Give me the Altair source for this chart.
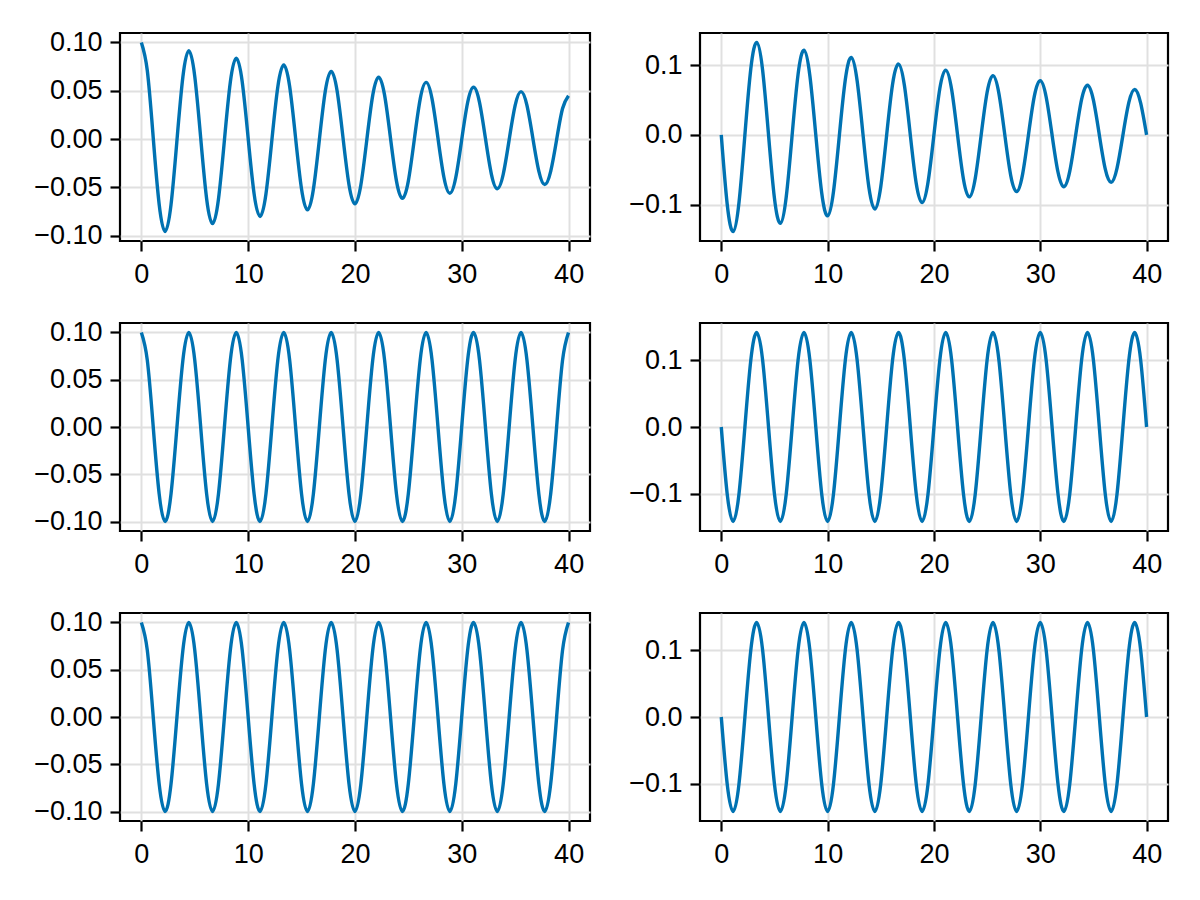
import altair as alt
import pandas as pd

# time samples (s)
t = [0.0, 0.555, 1.111, 1.666, 2.221, 2.777, 3.332, 3.888, 4.443, 4.998,
     5.554, 6.109, 6.664, 7.220, 7.775, 8.330, 8.886, 9.441, 9.996, 10.552,
     11.107, 11.663, 12.218, 12.773, 13.329, 13.884, 14.439, 14.995, 15.550, 16.105,
     16.661, 17.216, 17.772, 18.327, 18.882, 19.438, 19.993, 20.548, 21.104, 21.659,
     22.214, 22.770, 23.325, 23.880, 24.436, 24.991, 25.547, 26.102, 26.657, 27.213,
     27.768, 28.323, 28.879, 29.434, 29.989, 30.545, 31.100, 31.656, 32.211, 32.766,
     33.322, 33.877, 34.432, 34.988, 35.543, 36.098, 36.654, 37.209, 37.764, 38.320,
     38.875, 39.431, 39.986]

# damped position
x_damped = [0.10000, 0.07092, 0.00138, -0.06743, -0.09565, -0.06784, -0.00132, 0.06450, 0.09150, 0.06489,
            0.00127, -0.06169, -0.08752, -0.06207, -0.00121, 0.05901, 0.08372, 0.05937, 0.00115, -0.05645,
            -0.08008, -0.05679, -0.00111, 0.05400, 0.07660, 0.05432, 0.00106, -0.05165, -0.07327, -0.05196,
            -0.00101, 0.04940, 0.07009, 0.04971, 0.00097, -0.04726, -0.06704, -0.04755, -0.00093, 0.04520,
            0.06413, 0.04548, 0.00089, -0.04324, -0.06134, -0.04350, -0.00085, 0.04136, 0.05868, 0.04161,
            0.00081, -0.03956, -0.05613, -0.03981, -0.00078, 0.03785, 0.05369, 0.03808, 0.00074, -0.03620,
            -0.05135, -0.03642, -0.00071, 0.03463, 0.04912, 0.03484, 0.00068, -0.03312, -0.04699, -0.03333,
            -0.00065, 0.03168, 0.04495]

# damped velocity
v_damped = [0.0, -0.09890, -0.13831, -0.09672, 0.0, 0.09460, 0.13230, 0.09252, 0.0, -0.09049,
            -0.12655, -0.08850, 0.0, 0.08656, 0.12105, 0.08465, 0.0, -0.08279, -0.11579, -0.08098,
            0.0, 0.07920, 0.11076, 0.07746, 0.0, -0.07575, -0.10595, -0.07409, 0.0, 0.07246,
            0.10134, 0.07087, 0.0, -0.06931, -0.09694, -0.06779, 0.0, 0.06630, 0.09273, 0.06485,
            0.0, -0.06342, -0.08870, -0.06203, 0.0, 0.06067, 0.08485, 0.05933, 0.0, -0.05803,
            -0.08116, -0.05676, 0.0, 0.05551, 0.07763, 0.05429, 0.0, -0.05310, -0.07426, -0.05193,
            0.0, 0.05079, 0.07103, 0.04967, 0.0, -0.04858, -0.06795, -0.04752, 0.0, 0.04647,
            0.06499, 0.04545, 0.0]

# undamped position
x_free = [0.1, 0.07071, 0.0, -0.07071, -0.1, -0.07071, 0.0, 0.07071,
          0.1, 0.07071, 0.0, -0.07071, -0.1, -0.07071, 0.0, 0.07071,
          0.1, 0.07071, 0.0, -0.07071, -0.1, -0.07071, 0.0, 0.07071,
          0.1, 0.07071, 0.0, -0.07071, -0.1, -0.07071, 0.0, 0.07071,
          0.1, 0.07071, 0.0, -0.07071, -0.1, -0.07071, 0.0, 0.07071,
          0.1, 0.07071, 0.0, -0.07071, -0.1, -0.07071, 0.0, 0.07071,
          0.1, 0.07071, 0.0, -0.07071, -0.1, -0.07071, 0.0, 0.07071,
          0.1, 0.07071, 0.0, -0.07071, -0.1, -0.07071, 0.0, 0.07071,
          0.1, 0.07071, 0.0, -0.07071, -0.1, -0.07071, 0.0, 0.07071,
          0.1]

# undamped velocity
v_free = [0.0, -0.1, -0.14142, -0.1, 0.0, 0.1, 0.14142, 0.1,
          0.0, -0.1, -0.14142, -0.1, 0.0, 0.1, 0.14142, 0.1,
          0.0, -0.1, -0.14142, -0.1, 0.0, 0.1, 0.14142, 0.1,
          0.0, -0.1, -0.14142, -0.1, 0.0, 0.1, 0.14142, 0.1,
          0.0, -0.1, -0.14142, -0.1, 0.0, 0.1, 0.14142, 0.1,
          0.0, -0.1, -0.14142, -0.1, 0.0, 0.1, 0.14142, 0.1,
          0.0, -0.1, -0.14142, -0.1, 0.0, 0.1, 0.14142, 0.1,
          0.0, -0.1, -0.14142, -0.1, 0.0, 0.1, 0.14142, 0.1,
          0.0, -0.1, -0.14142, -0.1, 0.0, 0.1, 0.14142, 0.1,
          0.0]

x_ticks = [0, 10, 20, 30, 40]
left_ticks = [-0.10, -0.05, 0.0, 0.05, 0.10]
right_ticks = [-0.1, 0.0, 0.1]

LINE_COLOR = "#0072B2"
FONT = "Liberation Sans"


def panel(values, domain, ticks, fmt, width):
    df = pd.DataFrame({"t": t, "y": values})
    return alt.Chart(df).mark_line(
        color=LINE_COLOR, strokeWidth=3.4, interpolate="natural"
    ).encode(
        x=alt.X("t:Q", scale=alt.Scale(domain=[-2, 42], nice=False, zero=False),
                axis=alt.Axis(values=x_ticks, format="d", title=None)),
        y=alt.Y("y:Q", scale=alt.Scale(domain=domain, nice=False, zero=False),
                axis=alt.Axis(values=ticks, format=fmt, title=None)),
    ).properties(width=width, height=208)


charts = [
    panel(x_damped, [-0.1055, 0.1098], left_ticks, ".2f", 470),
    panel(v_damped, [-0.1518, 0.1458], right_ticks, ".1f", 468),
    panel(x_free, [-0.11, 0.11], left_ticks, ".2f", 470),
    panel(v_free, [-0.1556, 0.1556], right_ticks, ".1f", 468),
    panel(x_free, [-0.11, 0.11], left_ticks, ".2f", 470),
    panel(v_free, [-0.1556, 0.1556], right_ticks, ".1f", 468),
]

chart = alt.concat(
    *charts, columns=2, spacing={"row": 82, "column": 110}, bounds="flush"
).properties(
    padding={"left": 24, "top": 19, "right": 10, "bottom": 10}
).configure_view(
    stroke="black", strokeWidth=2.2
).configure_axis(
    domain=False,
    grid=True,
    gridColor="#e0e0e0",
    gridWidth=2,
    ticks=True,
    tickColor="black",
    tickWidth=2.2,
    tickSize=10,
    labelFont=FONT,
    labelFontSize=27,
    labelColor="black",
    labelPadding=8,
).configure_axisX(
    labelPadding=10,
)

chart.save("out.html", embed_options={"renderer": "svg", "actions": False})
